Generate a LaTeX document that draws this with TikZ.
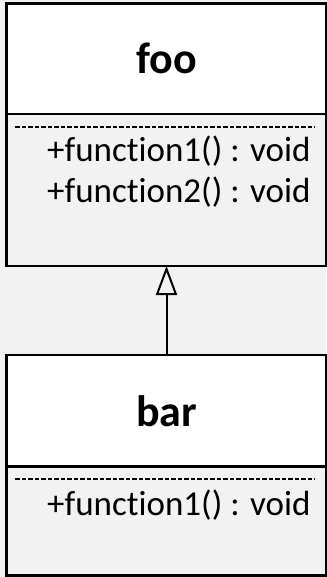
\documentclass[tikz,border=0pt]{standalone}
\usepackage{fontspec}
\setmainfont{Carlito}[Ligatures=NoCommon]
\usetikzlibrary{positioning,arrows.meta}
\definecolor{panelc}{HTML}{F2F2F2}
\tikzset{
  classhead/.style={draw, line width=2.4pt, fill=white, minimum width=320pt, inner sep=0pt, outer sep=0pt, font=\fontsize{44}{50}\selectfont\bfseries},
  classbody/.style={draw, line width=2.4pt, fill=panelc, minimum width=320pt, inner sep=0pt, outer sep=0pt},
  member/.style={anchor=base west, inner sep=0pt, font=\fontsize{35}{42}\selectfont},
  divider/.style={line width=2pt, dash pattern=on 4.5pt off 2pt},
  inherit/.style={line width=2pt, -{Triangle[open,length=29pt,width=21pt]}},
}

\begin{document}
\begin{tikzpicture}[x=1pt,y=-1pt]
\useasboundingbox (0,0) rectangle (326,577);
\fill[panelc] (0,0) rectangle (326,577);
% base class
\node[classhead, minimum height=110.5pt] (foo) at (166.5,58.75) {foo};
\node[classbody, minimum height=152pt, below=0pt of foo] (foobody) {};
\draw[divider] ([xshift=8.5pt,yshift=-13pt]foobody.north west) -- ([xshift=-11.5pt,yshift=-13pt]foobody.north east);
\node[member] (foofn1) at (47,162) {+function1() : void};
\node[member] (foofn2) at (47,203) {+function2() : void};
% derived class
\node[classhead, minimum height=111.5pt] (bar) at (166.5,410.75) {bar};
\node[classbody, minimum height=109pt, below=0pt of bar] (barbody) {};
\draw[divider] ([xshift=8.5pt,yshift=-12.5pt]barbody.north west) -- ([xshift=-11.5pt,yshift=-12.5pt]barbody.north east);
\node[member] (barfn1) at (47,515) {+function1() : void};
% generalisation
\draw[inherit] (bar.north) -- (foobody.south);
\end{tikzpicture}
\end{document}
